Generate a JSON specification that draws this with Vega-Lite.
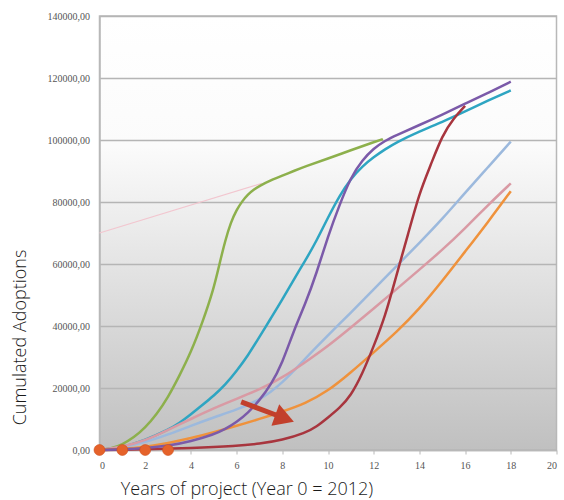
{
  "$schema": "https://vega.github.io/schema/vega-lite/v6.json",
  "width": 457,
  "height": 434,
  "autosize": {"type": "none"},
  "padding": {"left": 99.5, "top": 16, "right": 7.5, "bottom": 50},
  "background": "#ffffff",
  "config": {
    "view": {
      "stroke": "#b8b8b8",
      "strokeWidth": 1.5,
      "fill": {"gradient": "linear", "x1": 0, "y1": 0, "x2": 0, "y2": 1,
        "stops": [{"offset": 0, "color": "#ffffff"}, {"offset": 0.3, "color": "#fbfbfb"}, {"offset": 1, "color": "#c0c0c0"}]}
    }
  },
  "datasets": {
    "curves": [
      {"s": "green", "x": 0, "y": 0}, {"s": "green", "x": 0.5, "y": 400}, {"s": "green", "x": 1, "y": 1800}, {"s": "green", "x": 1.5, "y": 4000}, {"s": "green", "x": 2, "y": 7200}, {"s": "green", "x": 2.5, "y": 11500}, {"s": "green", "x": 3, "y": 17000}, {"s": "green", "x": 3.5, "y": 24000}, {"s": "green", "x": 4, "y": 31500}, {"s": "green", "x": 4.5, "y": 41000}, {"s": "green", "x": 5, "y": 52000}, {"s": "green", "x": 5.25, "y": 60000}, {"s": "green", "x": 5.5, "y": 67500}, {"s": "green", "x": 5.75, "y": 73500}, {"s": "green", "x": 6, "y": 77500}, {"s": "green", "x": 6.25, "y": 80300}, {"s": "green", "x": 6.5, "y": 82500}, {"s": "green", "x": 6.75, "y": 84000}, {"s": "green", "x": 7, "y": 85200}, {"s": "green", "x": 7.5, "y": 87000}, {"s": "green", "x": 8, "y": 88500}, {"s": "green", "x": 8.5, "y": 90000}, {"s": "green", "x": 9, "y": 91500}, {"s": "green", "x": 10, "y": 94000}, {"s": "green", "x": 11, "y": 96700}, {"s": "green", "x": 12, "y": 99300}, {"s": "green", "x": 12.4, "y": 100300},
      {"s": "teal", "x": 0, "y": 0}, {"s": "teal", "x": 1, "y": 800}, {"s": "teal", "x": 2, "y": 3200}, {"s": "teal", "x": 3, "y": 6500}, {"s": "teal", "x": 3.5, "y": 8700}, {"s": "teal", "x": 4, "y": 11500}, {"s": "teal", "x": 4.5, "y": 14500}, {"s": "teal", "x": 5, "y": 17500}, {"s": "teal", "x": 5.5, "y": 21000}, {"s": "teal", "x": 6, "y": 25500}, {"s": "teal", "x": 6.5, "y": 30500}, {"s": "teal", "x": 7, "y": 36500}, {"s": "teal", "x": 7.5, "y": 42500}, {"s": "teal", "x": 8, "y": 48500}, {"s": "teal", "x": 8.5, "y": 55000}, {"s": "teal", "x": 9, "y": 61000}, {"s": "teal", "x": 9.5, "y": 67500}, {"s": "teal", "x": 10, "y": 75000}, {"s": "teal", "x": 10.5, "y": 82000}, {"s": "teal", "x": 11, "y": 87500}, {"s": "teal", "x": 11.5, "y": 91500}, {"s": "teal", "x": 12, "y": 94500}, {"s": "teal", "x": 12.5, "y": 97000}, {"s": "teal", "x": 13, "y": 99300}, {"s": "teal", "x": 14, "y": 102800}, {"s": "teal", "x": 15, "y": 105800}, {"s": "teal", "x": 16, "y": 109200}, {"s": "teal", "x": 17, "y": 112700}, {"s": "teal", "x": 18, "y": 116000},
      {"s": "lightblue", "x": 0, "y": 0}, {"s": "lightblue", "x": 1, "y": 800}, {"s": "lightblue", "x": 2, "y": 2500}, {"s": "lightblue", "x": 3, "y": 5000}, {"s": "lightblue", "x": 4, "y": 7800}, {"s": "lightblue", "x": 5, "y": 10500}, {"s": "lightblue", "x": 6, "y": 13000}, {"s": "lightblue", "x": 7, "y": 16000}, {"s": "lightblue", "x": 8, "y": 21500}, {"s": "lightblue", "x": 9, "y": 29500}, {"s": "lightblue", "x": 10, "y": 37000}, {"s": "lightblue", "x": 11, "y": 44300}, {"s": "lightblue", "x": 12, "y": 51800}, {"s": "lightblue", "x": 13, "y": 59300}, {"s": "lightblue", "x": 14, "y": 66800}, {"s": "lightblue", "x": 15, "y": 74500}, {"s": "lightblue", "x": 16, "y": 83000}, {"s": "lightblue", "x": 17, "y": 91200}, {"s": "lightblue", "x": 18, "y": 99500},
      {"s": "pink", "x": 0, "y": 0}, {"s": "pink", "x": 1, "y": 1000}, {"s": "pink", "x": 2, "y": 3000}, {"s": "pink", "x": 3, "y": 6500}, {"s": "pink", "x": 4, "y": 10000}, {"s": "pink", "x": 5, "y": 13500}, {"s": "pink", "x": 6, "y": 16500}, {"s": "pink", "x": 7, "y": 19500}, {"s": "pink", "x": 8, "y": 23300}, {"s": "pink", "x": 9, "y": 28300}, {"s": "pink", "x": 10, "y": 33500}, {"s": "pink", "x": 11, "y": 39500}, {"s": "pink", "x": 12, "y": 45600}, {"s": "pink", "x": 13, "y": 51900}, {"s": "pink", "x": 14, "y": 58200}, {"s": "pink", "x": 15, "y": 64500}, {"s": "pink", "x": 16, "y": 71500}, {"s": "pink", "x": 17, "y": 79000}, {"s": "pink", "x": 18, "y": 86000},
      {"s": "orange", "x": 0, "y": 0}, {"s": "orange", "x": 1, "y": 300}, {"s": "orange", "x": 2, "y": 1000}, {"s": "orange", "x": 3, "y": 2200}, {"s": "orange", "x": 4, "y": 3800}, {"s": "orange", "x": 5, "y": 5700}, {"s": "orange", "x": 6, "y": 7800}, {"s": "orange", "x": 7, "y": 10000}, {"s": "orange", "x": 8, "y": 12400}, {"s": "orange", "x": 9, "y": 15000}, {"s": "orange", "x": 10, "y": 19000}, {"s": "orange", "x": 11, "y": 25000}, {"s": "orange", "x": 12, "y": 31500}, {"s": "orange", "x": 13, "y": 38000}, {"s": "orange", "x": 14, "y": 45500}, {"s": "orange", "x": 15, "y": 54500}, {"s": "orange", "x": 16, "y": 64000}, {"s": "orange", "x": 17, "y": 73500}, {"s": "orange", "x": 18, "y": 83500},
      {"s": "maroon", "x": 0, "y": 0}, {"s": "maroon", "x": 2, "y": 200}, {"s": "maroon", "x": 4, "y": 600}, {"s": "maroon", "x": 6, "y": 1300}, {"s": "maroon", "x": 7, "y": 2000}, {"s": "maroon", "x": 8, "y": 3200}, {"s": "maroon", "x": 9, "y": 5500}, {"s": "maroon", "x": 9.5, "y": 7500}, {"s": "maroon", "x": 10, "y": 10500}, {"s": "maroon", "x": 10.5, "y": 13500}, {"s": "maroon", "x": 11, "y": 17500}, {"s": "maroon", "x": 11.5, "y": 24500}, {"s": "maroon", "x": 12, "y": 33500}, {"s": "maroon", "x": 12.5, "y": 43000}, {"s": "maroon", "x": 13, "y": 56500}, {"s": "maroon", "x": 13.5, "y": 69500}, {"s": "maroon", "x": 14, "y": 83000}, {"s": "maroon", "x": 14.5, "y": 92000}, {"s": "maroon", "x": 15, "y": 101500}, {"s": "maroon", "x": 15.5, "y": 107000}, {"s": "maroon", "x": 16, "y": 111000},
      {"s": "purple", "x": 0, "y": 0}, {"s": "purple", "x": 1, "y": 200}, {"s": "purple", "x": 2, "y": 600}, {"s": "purple", "x": 3, "y": 1300}, {"s": "purple", "x": 4, "y": 2800}, {"s": "purple", "x": 5, "y": 5000}, {"s": "purple", "x": 5.5, "y": 6700}, {"s": "purple", "x": 6, "y": 9000}, {"s": "purple", "x": 6.5, "y": 12000}, {"s": "purple", "x": 7, "y": 16000}, {"s": "purple", "x": 7.5, "y": 21000}, {"s": "purple", "x": 8, "y": 28000}, {"s": "purple", "x": 8.5, "y": 38500}, {"s": "purple", "x": 9, "y": 47000}, {"s": "purple", "x": 9.5, "y": 57000}, {"s": "purple", "x": 10, "y": 69000}, {"s": "purple", "x": 10.5, "y": 79000}, {"s": "purple", "x": 11, "y": 88000}, {"s": "purple", "x": 11.5, "y": 93500}, {"s": "purple", "x": 12, "y": 97300}, {"s": "purple", "x": 12.5, "y": 99800}, {"s": "purple", "x": 13, "y": 101600}, {"s": "purple", "x": 14, "y": 104800}, {"s": "purple", "x": 15, "y": 108200}, {"s": "purple", "x": 16, "y": 111700}, {"s": "purple", "x": 17, "y": 115200}, {"s": "purple", "x": 18, "y": 118800}
    ],
    "trend": [{"x": 0, "y": 70000}, {"x": 7.1, "y": 86000}],
    "dots": [{"x": 0, "y": 0}, {"x": 1, "y": 0}, {"x": 2, "y": 0}, {"x": 3, "y": 0}],
    "arrow": [{"x": 6.2, "y": 15500, "x2": 7.75, "y2": 11200}],
    "arrowhead": [{"x": 8.1, "y": 10200}]
  },
  "encoding": {
    "x": {"field": "x", "type": "quantitative", "scale": {"domain": [0, 20], "nice": false},
      "axis": {"title": "Years of project (Year 0 = 2012)", "values": [0, 2, 4, 6, 8, 10, 12, 14, 16, 18, 20], "grid": false, "domain": true, "domainColor": "#b8b8b8", "domainWidth": 1.5, "ticks": true, "tickColor": "#b8b8b8", "tickSize": 4, "labelFont": "Liberation Serif", "labelFontSize": 10, "labelColor": "#555555", "labelPadding": 6, "titleFont": "Open Sans", "titleFontSize": 18, "titleFontWeight": 300, "titleColor": "#1a1a1a", "titleX": 147, "titleY": 39, "titleBaseline": "middle", "titleAlign": "center"}},
    "y": {"field": "y", "type": "quantitative", "scale": {"domain": [0, 140000], "nice": false},
      "axis": {"title": "Cumulated Adoptions", "values": [0, 20000, 40000, 60000, 80000, 100000, 120000, 140000], "labelExpr": "replace(format(datum.value, '.2f'), '.', ',')", "grid": true, "gridColor": "#b5b5b5", "gridWidth": 1.5, "domain": true, "domainColor": "#b8b8b8", "domainWidth": 1.5, "ticks": false, "labelPadding": 10, "labelFont": "Liberation Serif", "labelFontSize": 10, "labelColor": "#555555", "titleFont": "Open Sans", "titleFontSize": 18, "titleFontWeight": 300, "titleColor": "#1a1a1a", "titleX": -79, "titleY": 321, "titleAngle": -90, "titleAlign": "center", "titleBaseline": "middle"}}
  },
  "layer": [
    {
      "data": {"name": "trend"},
      "mark": {"type": "line", "color": "#f2c6cf", "strokeWidth": 1.2}
    },
    {
      "data": {"name": "curves"},
      "mark": {"type": "line", "strokeWidth": 2.5, "interpolate": "basis"},
      "encoding": {
        "color": {"field": "s", "type": "nominal", "legend": null,
          "scale": {"domain": ["green", "teal", "lightblue", "pink", "orange", "maroon", "purple"],
            "range": ["#8db04c", "#2ea5c2", "#9cb9dd", "#d99aa4", "#ef923c", "#a8353e", "#7b5aa9"]}}
      }
    },
    {
      "data": {"name": "dots"},
      "mark": {"type": "point", "filled": true, "size": 120, "color": "#e5622a", "opacity": 1, "stroke": "#cf4f1c", "strokeWidth": 0.6}
    },
    {
      "data": {"name": "arrow"},
      "mark": {"type": "rule", "color": "#c2402c", "strokeWidth": 5},
      "encoding": {
        "x2": {"field": "x2"},
        "y2": {"field": "y2"}
      }
    },
    {
      "data": {"name": "arrowhead"},
      "mark": {"type": "point", "shape": "triangle-right", "filled": true, "size": 520, "color": "#c2402c", "opacity": 1, "angle": 20}
    }
  ]
}
